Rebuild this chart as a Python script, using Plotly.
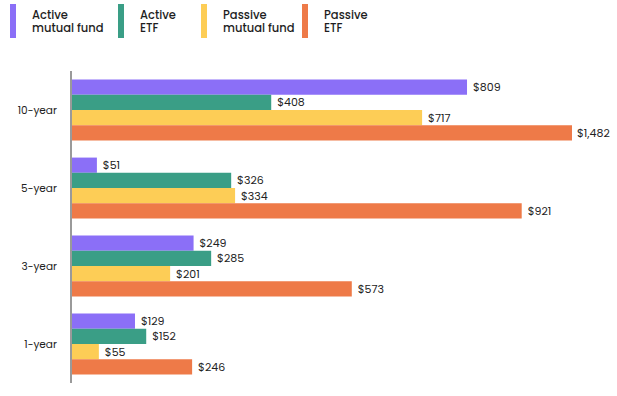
import plotly.graph_objects as go

periods = ["10-year", "5-year", "3-year", "1-year"]
legend_line1 = ["Active", "Active", "Passive", "Passive"]
legend_line2 = ["mutual fund", "ETF", "mutual fund", "ETF"]
active_mf = [809, 51, 249, 129]
active_etf = [408, 326, 285, 152]
passive_mf = [717, 334, 201, 55]
passive_etf = [1482, 921, 573, 246]
colors = ["#8b6ff7", "#3a9e86", "#fdcd56", "#ee7a48"]

x_max = 1024  # visible axis max; longer bars are cut at the plot edge
FONT = "Poppins, Inter, Lato, sans-serif"

fig = go.Figure()
all_series = [active_mf, active_etf, passive_mf, passive_etf]
overflow = []
for i, (l1, l2, vals, col) in enumerate(zip(legend_line1, legend_line2, all_series, colors)):
    labels = []
    for p, v in zip(periods, vals):
        if v <= x_max:
            labels.append(f" ${v:,}")
        else:
            labels.append("")
            overflow.append((p, i, v))
    fig.add_trace(go.Bar(
        y=periods, x=vals, orientation="h", name=f"{l1} {l2}",
        marker=dict(color=col, line=dict(width=0)),
        text=labels, textposition="outside", cliponaxis=False,
        constraintext="none",
        textfont=dict(family=FONT, size=11, color="#222222"),
        showlegend=False,
    ))

for p, i, v in overflow:
    fig.add_annotation(
        x=1, xref="paper", y=p, yref="y", xanchor="left", yanchor="middle",
        xshift=3, yshift=(1.5 - i) * 15.25,
        text=f"${v:,}", showarrow=False,
        font=dict(family=FONT, size=11, color="#222222"),
    )

# custom legend
legend_x = [10, 118, 201, 302]
W, H = 617, 396
ml, mr, mt, mb = 72, 45, 71, 13
pw, ph = W - ml - mr, H - mt - mb


def px_x(v):
    return (v - ml) / pw


def px_y(v):
    return (H - mb - v) / ph


for lx, l1, l2, col in zip(legend_x, legend_line1, legend_line2, colors):
    fig.add_shape(type="rect", xref="paper", yref="paper",
                  x0=px_x(lx), x1=px_x(lx + 6), y0=px_y(38), y1=px_y(4),
                  fillcolor=col, line=dict(width=0))
    for txt, cy in ((l1, 15.5), (l2, 27.5)):
        fig.add_annotation(
            x=px_x(lx + 21), xref="paper", y=px_y(cy), yref="paper",
            xanchor="left", yanchor="middle", align="left",
            text=txt, showarrow=False, borderpad=0,
            font=dict(family=FONT, size=11.5, color="#1e1e1e", weight=500),
        )

fig.update_layout(
    width=W, height=H,
    margin=dict(l=ml, r=mr, t=mt, b=mb, autoexpand=False),
    barmode="group", bargap=0.22, bargroupgap=0,
    plot_bgcolor="white", paper_bgcolor="white",
    font=dict(family=FONT, size=11, color="#222222"),
    xaxis=dict(range=[0, x_max], visible=False, fixedrange=True, automargin=False),
    yaxis=dict(autorange="reversed", showline=True, linecolor="#9a9a9a", linewidth=2,
               ticks="", ticklabelstandoff=11, showgrid=False, automargin=False,
               tickfont=dict(family=FONT, size=10.5, color="#222222")),
)

fig.write_html("out.html", config={"displayModeBar": False},
               post_script="document.body.style.margin='0';")
